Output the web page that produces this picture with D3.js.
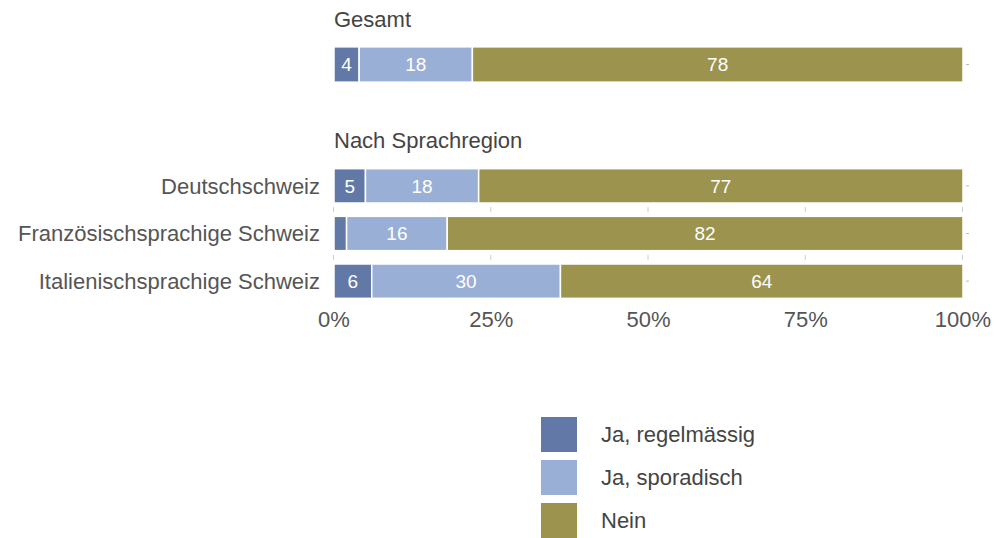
<!DOCTYPE html>
<html>
<head>
<meta charset="utf-8">
<script src="https://cdn.jsdelivr.net/npm/d3@7"></script>
<style>
  body { margin: 0; background: #fff; }
  svg { font-family: "Liberation Sans", Arial, sans-serif; }
</style>
</head>
<body>
<svg id="chart" width="998" height="538"></svg>
<script>
// ----------------------------
// Data
// ----------------------------
const seriesNames = ["Ja, regelmässig", "Ja, sporadisch", "Nein"];
const seriesColors = ["#6279a7", "#9aafd6", "#9b934e"];

const totalLabel = ["Gesamt"];
const totalValues = [[4, 18, 78]];

const regions = ["Deutschschweiz", "Französischsprachige Schweiz", "Italienischsprachige Schweiz"];
const regionValues = [
  [5, 18, 77],
  [2, 16, 82],
  [6, 30, 64]
];
const hiddenLabelBelow = 3; // segments below this value get no label

const xTicks = [0, 25, 50, 75, 100];

// ----------------------------
// Plotting
// ----------------------------
const svg = d3.select("#chart");
const textColor = "#555";
const fontSize = 22;

const x = d3.scaleLinear().domain([0, 100]).range([334, 963]);

const yTotal = d3.scaleBand().domain(totalLabel).range([40, 89]).paddingInner(0.28).paddingOuter(0.14);
const yRegion = d3.scaleBand().domain(regions).range([162, 305]).paddingInner(0.28).paddingOuter(0.14);

function stackRow(vals) {
  let acc = 0;
  return vals.map((v, i) => {
    const seg = { i, v, x0: acc, x1: acc + v };
    acc += v;
    return seg;
  });
}

function drawGroup(yScale, names, values, withLabels) {
  const g = svg.append("g");

  // small tick marks between bars
  const bw = yScale.bandwidth();
  for (let k = 0; k < names.length - 1; k++) {
    const yMid = (yScale(names[k]) + bw + yScale(names[k + 1])) / 2;
    g.selectAll(null).data(xTicks).enter().append("line")
      .attr("x1", d => x(d) - 0.5)
      .attr("x2", d => x(d) - 0.5)
      .attr("y1", yMid - 2.5)
      .attr("y2", yMid + 2.5)
      .attr("stroke", "#ccc")
      .attr("stroke-width", 1);
  }

  // right-side dashes at bar centres
  g.selectAll(null).data(names).enter().append("line")
    .attr("x1", x(100) + 3)
    .attr("x2", x(100) + 6)
    .attr("y1", d => yScale(d) + bw / 2)
    .attr("y2", d => yScale(d) + bw / 2)
    .attr("stroke", "#bbb")
    .attr("stroke-width", 1);

  names.forEach((name, r) => {
    const segs = stackRow(values[r]);
    const row = g.append("g");
    row.selectAll("rect").data(segs).enter().append("rect")
      .attr("x", d => x(d.x0))
      .attr("y", yScale(name))
      .attr("width", d => x(d.x1) - x(d.x0))
      .attr("height", bw)
      .attr("fill", d => seriesColors[d.i])
      .attr("stroke", "#fff")
      .attr("stroke-width", 1.5);

    row.selectAll("text").data(segs.filter(d => d.v >= hiddenLabelBelow)).enter().append("text")
      .attr("x", d => (x(d.x0) + x(d.x1)) / 2)
      .attr("y", yScale(name) + bw / 2)
      .attr("dy", "0.36em")
      .attr("text-anchor", "middle")
      .attr("fill", "#fff")
      .attr("font-size", 19)
      .text(d => d.v);

    if (withLabels) {
      svg.append("text")
        .attr("x", 320)
        .attr("y", yScale(name) + bw / 2)
        .attr("dy", "0.36em")
        .attr("text-anchor", "end")
        .attr("fill", textColor)
        .attr("font-size", fontSize)
        .text(name);
    }
  });
}

// titles
svg.append("text").attr("x", 334).attr("y", 27).attr("fill", "#444")
  .attr("font-size", fontSize).text("Gesamt");
svg.append("text").attr("x", 334).attr("y", 148).attr("fill", "#444")
  .attr("font-size", fontSize).text("Nach Sprachregion");

drawGroup(yTotal, totalLabel, totalValues, false);
drawGroup(yRegion, regions, regionValues, true);

// x axis labels
svg.append("g").selectAll("text").data(xTicks).enter().append("text")
  .attr("x", d => x(d))
  .attr("y", 327)
  .attr("text-anchor", "middle")
  .attr("fill", textColor)
  .attr("font-size", fontSize)
  .text(d => d + "%");

// Legend
const legend = svg.append("g").attr("transform", "translate(541,417)");
const lg = legend.selectAll("g").data(seriesNames).enter().append("g")
  .attr("transform", (d, i) => `translate(0,${i * 43})`);
lg.append("rect")
  .attr("width", 36)
  .attr("height", 35)
  .attr("fill", (d, i) => seriesColors[i]);
lg.append("text")
  .attr("x", 60)
  .attr("y", 17.5)
  .attr("dy", "0.36em")
  .attr("fill", "#444")
  .attr("font-size", fontSize)
  .text(d => d);
</script>
</body>
</html>
